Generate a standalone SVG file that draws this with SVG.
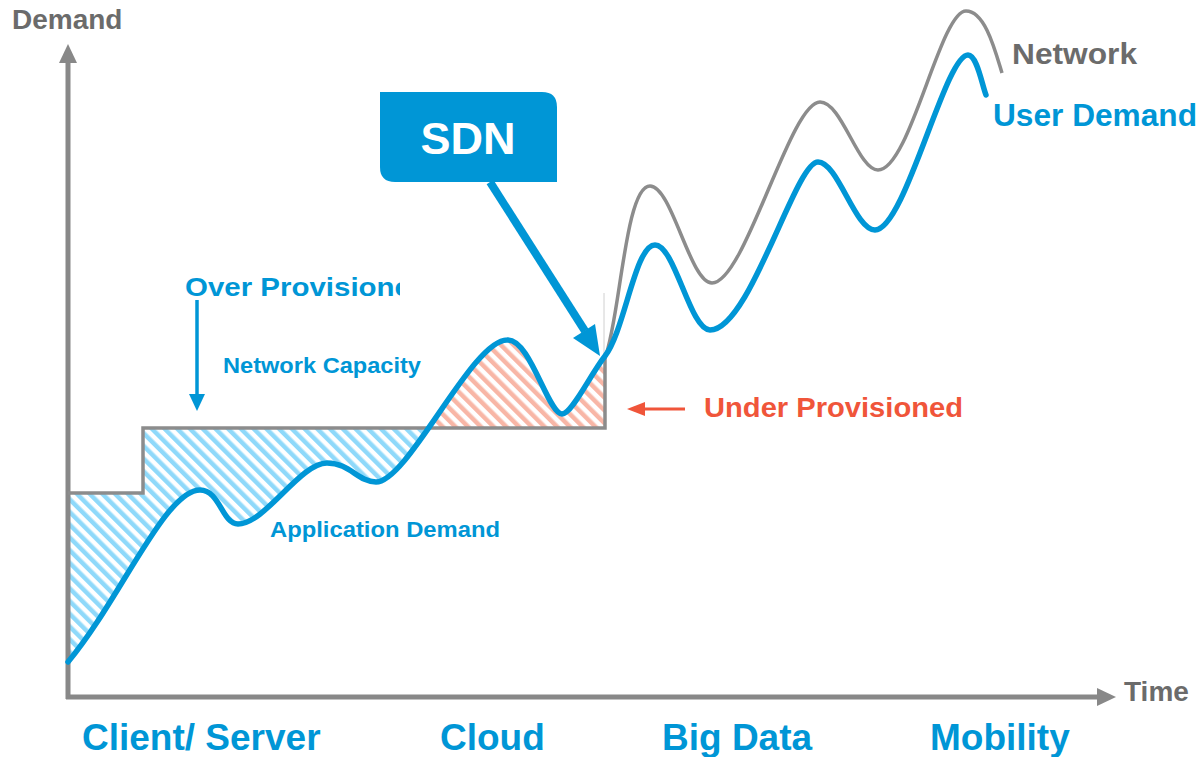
<svg xmlns="http://www.w3.org/2000/svg" width="1203" height="757" viewBox="0 0 1203 757">
  <style>
    .t { font-family: "Liberation Sans", Arial, sans-serif; font-weight: bold; }
    .blue { fill: #0096D6; }
    .gray { fill: #6B6B6B; }
    .red { fill: #F0553A; }
    .axis { stroke: #888888; stroke-width: 5; fill: none; }
    .cap { stroke: #8C8C8C; stroke-width: 3.5; fill: none; }
    .demand { stroke: #0096D6; stroke-width: 5.5; fill: none; stroke-linecap: round; stroke-linejoin: round; }
    .net { stroke: #8C8C8C; stroke-width: 3.5; fill: none; }
  </style>
  <defs>
    <pattern id="hatchBlue" patternUnits="userSpaceOnUse" width="9" height="9" patternTransform="rotate(-45)">
      <rect x="0" y="0" width="4.5" height="9" fill="#8FD9FA"/>
    </pattern>
    <pattern id="hatchRed" patternUnits="userSpaceOnUse" width="9" height="9" patternTransform="rotate(-45)">
      <rect x="0" y="0" width="4.5" height="9" fill="#F8B6A6"/>
    </pattern>
    <clipPath id="belowCap">
      <polygon points="68,493 143,493 143,428 605,428 605,700 68,700"/>
    </clipPath>
    <clipPath id="aboveCap">
      <rect x="68" y="0" width="537" height="428"/>
    </clipPath>
    <clipPath id="overClip">
      <rect x="150" y="260" width="250" height="60"/>
    </clipPath>
  </defs>

  <g id="fills">
    <path clip-path="url(#belowCap)" fill="url(#hatchBlue)" d="M68,662 C120,600 165,490 200,490 C220,490 222,524 238,524 C265,524 300,463 327,463 C350,463 358,482 376,482 C408,482 472,340 507,340 C530,338 548,414 562,414 C572,414 590,375 605,356 L605,0 L68,0 Z"/>
    <path clip-path="url(#aboveCap)" fill="url(#hatchRed)" d="M68,662 C120,600 165,490 200,490 C220,490 222,524 238,524 C265,524 300,463 327,463 C350,463 358,482 376,482 C408,482 472,340 507,340 C530,338 548,414 562,414 C572,414 590,375 605,356 L605,700 L68,700 Z"/>
  </g>

  <g id="axes">
    <line class="axis" x1="68" y1="699" x2="68" y2="60"/>
    <polygon points="68,44 59,63 77,63" fill="#888888"/>
    <line class="axis" x1="66" y1="697" x2="1099" y2="697"/>
    <polygon points="1116,697 1097,688 1097,706" fill="#888888"/>
  </g>

  <g id="connectors">
    <line x1="604" y1="293" x2="604" y2="358" stroke="#D0D0D0" stroke-width="1"/>
    <polyline class="cap" points="68,493 143,493 143,428 605,428 605,356"/>
    <path class="net" d="M605,358 C620,320 625,186 650,186 C672,186 690,283 712,283 C745,283 790,102 820,102 C842,102 858,170 878,170 C910,170 940,11 966,11 C985,11 995,50 1002,73"/>
    <path class="demand" d="M68,662 C120,600 165,490 200,490 C220,490 222,524 238,524 C265,524 300,463 327,463 C350,463 358,482 376,482 C408,482 472,340 507,340 C530,338 548,414 562,414 C572,414 590,375 605,356 C625,330 635,245 655,245 C675,245 690,330 710,330 C750,330 795,162 818,162 C838,162 855,230 875,230 C905,230 945,55 968,55 C977,55 982,85 986,95"/>
    <line x1="490" y1="182" x2="585" y2="331" stroke="#0096D6" stroke-width="8"/>
    <polygon points="600,356 573,338 595,324" fill="#0096D6"/>
    <line x1="197" y1="300" x2="197" y2="396" stroke="#0096D6" stroke-width="3.5"/>
    <polygon points="197,411 189,394 205,394" fill="#0096D6"/>
    <line x1="685" y1="409" x2="642" y2="409" stroke="#F0553A" stroke-width="3"/>
    <polygon points="627,409 645,402 645,416" fill="#F0553A"/>
  </g>

  <g id="sdn">
    <path d="M380,92 L542,92 Q557,92 557,107 L557,182 L395,182 Q380,182 380,167 Z" fill="#0096D6"/>
    <text class="t" x="468" y="154" font-size="45" fill="#FFFFFF" text-anchor="middle">SDN</text>
  </g>

  <g id="labels">
    <text class="t gray" x="12" y="29" font-size="28">Demand</text>
    <text class="t gray" x="1124" y="701" font-size="28">Time</text>
    <text class="t gray" x="1012" y="64" font-size="30" textLength="125" lengthAdjust="spacingAndGlyphs">Network</text>
    <text class="t blue" x="993" y="126" font-size="31" textLength="204" lengthAdjust="spacingAndGlyphs">User Demand</text>
    <text class="t blue" x="185" y="296" font-size="25" textLength="226" lengthAdjust="spacingAndGlyphs" clip-path="url(#overClip)">Over Provisione</text>
    <text class="t blue" x="223" y="373" font-size="22" textLength="198" lengthAdjust="spacingAndGlyphs">Network Capacity</text>
    <text class="t blue" x="270" y="537" font-size="22" textLength="230" lengthAdjust="spacingAndGlyphs">Application Demand</text>
    <text class="t red" x="704" y="417" font-size="28" textLength="259" lengthAdjust="spacingAndGlyphs">Under Provisioned</text>
    <text class="t blue" x="82" y="750" font-size="37">Client/ Server</text>
    <text class="t blue" x="440" y="750" font-size="37">Cloud</text>
    <text class="t blue" x="662" y="750" font-size="37">Big Data</text>
    <text class="t blue" x="930" y="750" font-size="37">Mobility</text>
  </g>
</svg>
